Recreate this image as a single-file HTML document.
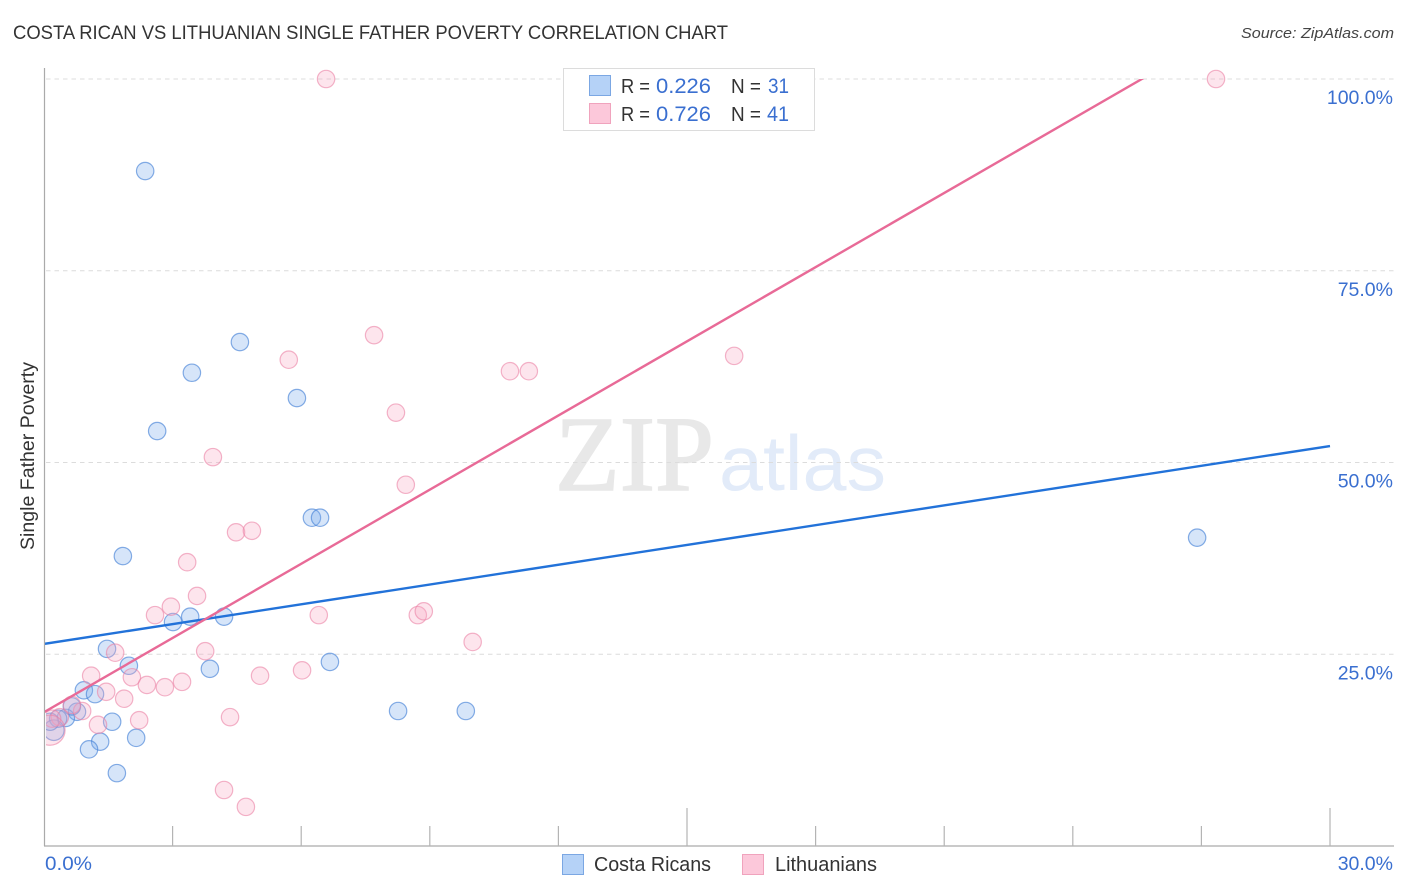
<!DOCTYPE html>
<html lang="en">
<head>
<meta charset="utf-8">
<title>Costa Rican vs Lithuanian Single Father Poverty Correlation Chart</title>
<style>
html,body{margin:0;padding:0;background:#fff;width:1406px;height:892px;overflow:hidden}
svg{display:block;font-family:"Liberation Sans",sans-serif}
</style>
</head>
<body>
<svg id="chart" width="1406" height="892" viewBox="0 0 1406 892" xmlns="http://www.w3.org/2000/svg">
  <defs>
    <clipPath id="plot-clip"><rect x="46" y="68" width="1348" height="778"/></clipPath>
    <clipPath id="line-clip"><rect x="45" y="79" width="1349" height="767"/></clipPath>
  </defs>
  <rect width="1406" height="892" fill="#fff"/>
  <text x="13" y="39" font-size="19.5" fill="#333" textLength="715" lengthAdjust="spacingAndGlyphs">COSTA RICAN VS LITHUANIAN SINGLE FATHER POVERTY CORRELATION CHART</text>
  <text x="1394" y="38" font-size="15" font-style="italic" fill="#444" text-anchor="end" textLength="153" lengthAdjust="spacingAndGlyphs">Source: ZipAtlas.com</text>

  <g>
    <text x="555" y="490" font-family="'Liberation Serif',serif" font-size="107" fill="#e8e8e8" stroke="#e8e8e8" stroke-width="1.6" textLength="159" lengthAdjust="spacingAndGlyphs">ZIP</text>
    <text x="719" y="490" font-size="78" fill="#e2ebf9" textLength="167" lengthAdjust="spacingAndGlyphs">atlas</text>
  </g>

  <g id="grid"></g>
  <g id="points-blue" clip-path="url(#plot-clip)"></g>
  <g id="points-pink" clip-path="url(#plot-clip)"></g>
  <g id="fits" clip-path="url(#line-clip)"></g>
  <g id="axes"></g>
  <text transform="translate(34,456) rotate(-90)" font-size="19" fill="#333" text-anchor="middle" textLength="188" lengthAdjust="spacingAndGlyphs">Single Father Poverty</text>

  <g>
    <rect x="563.5" y="68.5" width="251" height="62" fill="#fff" stroke="#dcdcdc"/>
    <rect x="589.5" y="75.5" width="21" height="20" fill="#b5d2f7" stroke="#7ba7e3"/>
    <rect x="589.5" y="103.5" width="21" height="20" fill="#fcc8da" stroke="#f0a3bd"/>
    <g font-size="20" fill="#333">
      <text x="621" y="93" textLength="29" lengthAdjust="spacingAndGlyphs">R =</text>
      <text x="656" y="93" fill="#3a6fd0" font-size="21" textLength="55" lengthAdjust="spacingAndGlyphs">0.226</text>
      <text x="731" y="93" textLength="30" lengthAdjust="spacingAndGlyphs">N =</text>
      <text x="768" y="93" fill="#3a6fd0" font-size="21" textLength="21" lengthAdjust="spacingAndGlyphs">31</text>
      <text x="621" y="121" textLength="29" lengthAdjust="spacingAndGlyphs">R =</text>
      <text x="656" y="121" fill="#3a6fd0" font-size="21" textLength="55" lengthAdjust="spacingAndGlyphs">0.726</text>
      <text x="731" y="121" textLength="30" lengthAdjust="spacingAndGlyphs">N =</text>
      <text x="767" y="121" fill="#3a6fd0" font-size="21" textLength="22" lengthAdjust="spacingAndGlyphs">41</text>
    </g>
  </g>

  <g>
    <rect x="562.5" y="854.5" width="21" height="20" fill="#b5d2f7" stroke="#7ba7e3"/>
    <text x="594" y="871" font-size="20" fill="#333" textLength="117" lengthAdjust="spacingAndGlyphs">Costa Ricans</text>
    <rect x="742.5" y="854.5" width="21" height="20" fill="#fcc8da" stroke="#f0a3bd"/>
    <text x="775" y="871" font-size="20" fill="#333" textLength="102" lengthAdjust="spacingAndGlyphs">Lithuanians</text>
  </g>
</svg>
<script>
const blueX = [2.36,4.57,3.45,5.90,2.64,6.25,6.44,1.84,26.9,3.01,3.41,4.20,1.47,1.98,3.87,6.67,8.26,9.84,0.93,1.19,1.59,2.15,1.31,1.05,1.70,0.77,0.51,0.33,0.65,0.23,0.14];
const blueY = [88.0,65.7,61.7,58.4,54.1,42.8,42.8,37.8,40.2,29.2,29.9,29.9,25.7,23.5,23.1,24.0,17.6,17.6,20.3,19.8,16.2,14.1,13.6,12.6,9.5,17.5,16.7,16.6,18.2,15.1,16.2];
const blueWeight = [1,1,1,1,1,1,1,1,1,1,1,1,1,1,1,1,1,1,1,1,1,1,1,1,1,1,1,1,1,1.4,1];
const pinkX = [6.58,27.34,7.70,5.71,16.1,10.87,11.31,8.21,3.94,8.44,4.48,4.85,3.34,3.57,2.96,2.59,6.41,8.72,8.86,10.0,3.76,1.66,6.02,5.04,1.10,2.05,2.40,2.82,3.22,1.45,1.87,4.34,2.22,1.26,4.20,4.71,0.89,0.65,0.37,0.19,0.14];
const pinkY = [100,100,66.6,63.4,63.9,61.9,61.9,56.5,50.7,47.1,40.9,41.1,37.0,32.6,31.2,30.1,30.1,30.1,30.6,26.6,25.4,25.2,22.9,22.2,22.2,22.0,21.0,20.7,21.4,20.1,19.2,16.8,16.4,15.8,7.3,5.1,17.6,18.4,16.8,16.6,15.1];
const pinkWeight = [1,1,1,1,1,1,1,1,1,1,1,1,1,1,1,1,1,1,1,1,1,1,1,1,1,1,1,1,1,1,1,1,1,1,1,1,1,1,1,1,3];
const blueFitEnds = [26.35,52.15];
const pinkFitEnds = [17.45,114.15];
const fitDomain = [0,30];
const yTicks = [25,50,75,100];
const yTickLabels = ["25.0%","50.0%","75.0%","100.0%"];
const xTicks = [0,3,6,9,12,15,18,21,24,27,30];
const xEdgeLabels = ["0.0%","30.0%"];

const NS = "http://www.w3.org/2000/svg";
function xScale(v){ return 44 + v * 42.867; }
function yScale(v){ return 846 - v * 7.67; }
function rScale(w){ return 8.7 * Math.sqrt(w); }
function mk(parent, tag, attrs){
  const el = document.createElementNS(NS, tag);
  for (const k in attrs) el.setAttribute(k, attrs[k]);
  parent.appendChild(el);
  return el;
}

const grid = document.getElementById("grid");
const axes = document.getElementById("axes");
yTicks.forEach(function(v, i){
  const g = mk(grid, "line", {x1:46, x2:1394, y1:yScale(v), y2:yScale(v), stroke:"#dcdcdc", "stroke-width":1, "stroke-dasharray":"4.5 4"});
  
  
  const t = mk(axes, "text", {x:1393, y:yScale(v)+25, "text-anchor":"end", "font-size":19.5, fill:"#3a6fd0"});
  
  
  t.textContent = yTickLabels[i];
});

const yAxis = mk(axes, "line", {x1:44.5, x2:44.5, y1:68, y2:846, stroke:"#aaa", "stroke-width":1.2});


const xAxis = mk(axes, "line", {x1:44, x2:1394, y1:846, y2:846, stroke:"#aaa", "stroke-width":1.2});


xTicks.forEach(function(v){
  if (v === 0) return;
  const major = v % 15 === 0;
  const tk = mk(axes, "line", {x1:xScale(v), x2:xScale(v), y1:major ? 808 : 826, y2:846, stroke:"#b4b4b4", "stroke-width":1.2});
  
  
});
const x0 = mk(axes, "text", {x:45, y:870, "font-size":19.5, fill:"#3a6fd0", textLength:47, lengthAdjust:"spacingAndGlyphs"});


x0.textContent = xEdgeLabels[0];
const x1 = mk(axes, "text", {x:1393, y:870, "text-anchor":"end", "font-size":19.5, fill:"#3a6fd0"});


x1.textContent = xEdgeLabels[1];

const blueGroup = document.getElementById("points-blue");
blueX.forEach(function(v, i){
  const c = mk(blueGroup, "circle", {cx:xScale(v), cy:yScale(blueY[i]), r:rScale(blueWeight[i]), fill:"rgba(120,170,235,0.3)", stroke:"rgba(70,130,215,0.65)", "stroke-width":1.2});
  
  
});
const pinkGroup = document.getElementById("points-pink");
pinkX.forEach(function(v, i){
  const c = mk(pinkGroup, "circle", {cx:xScale(v), cy:yScale(pinkY[i]), r:rScale(pinkWeight[i]), fill:"rgba(248,170,195,0.3)", stroke:"rgba(235,130,165,0.6)", "stroke-width":1.2});
  
  
});

const fits = document.getElementById("fits");
const blueFit = mk(fits, "line", {x1:xScale(fitDomain[0]), y1:yScale(blueFitEnds[0]), x2:xScale(fitDomain[1]), y2:yScale(blueFitEnds[1]), stroke:"#2272d9", "stroke-width":2.4});


const pinkFit = mk(fits, "line", {x1:xScale(fitDomain[0]), y1:yScale(pinkFitEnds[0]), x2:xScale(fitDomain[1]), y2:yScale(pinkFitEnds[1]), stroke:"#e86a97", "stroke-width":2.4});


</script>
</body>
</html>
